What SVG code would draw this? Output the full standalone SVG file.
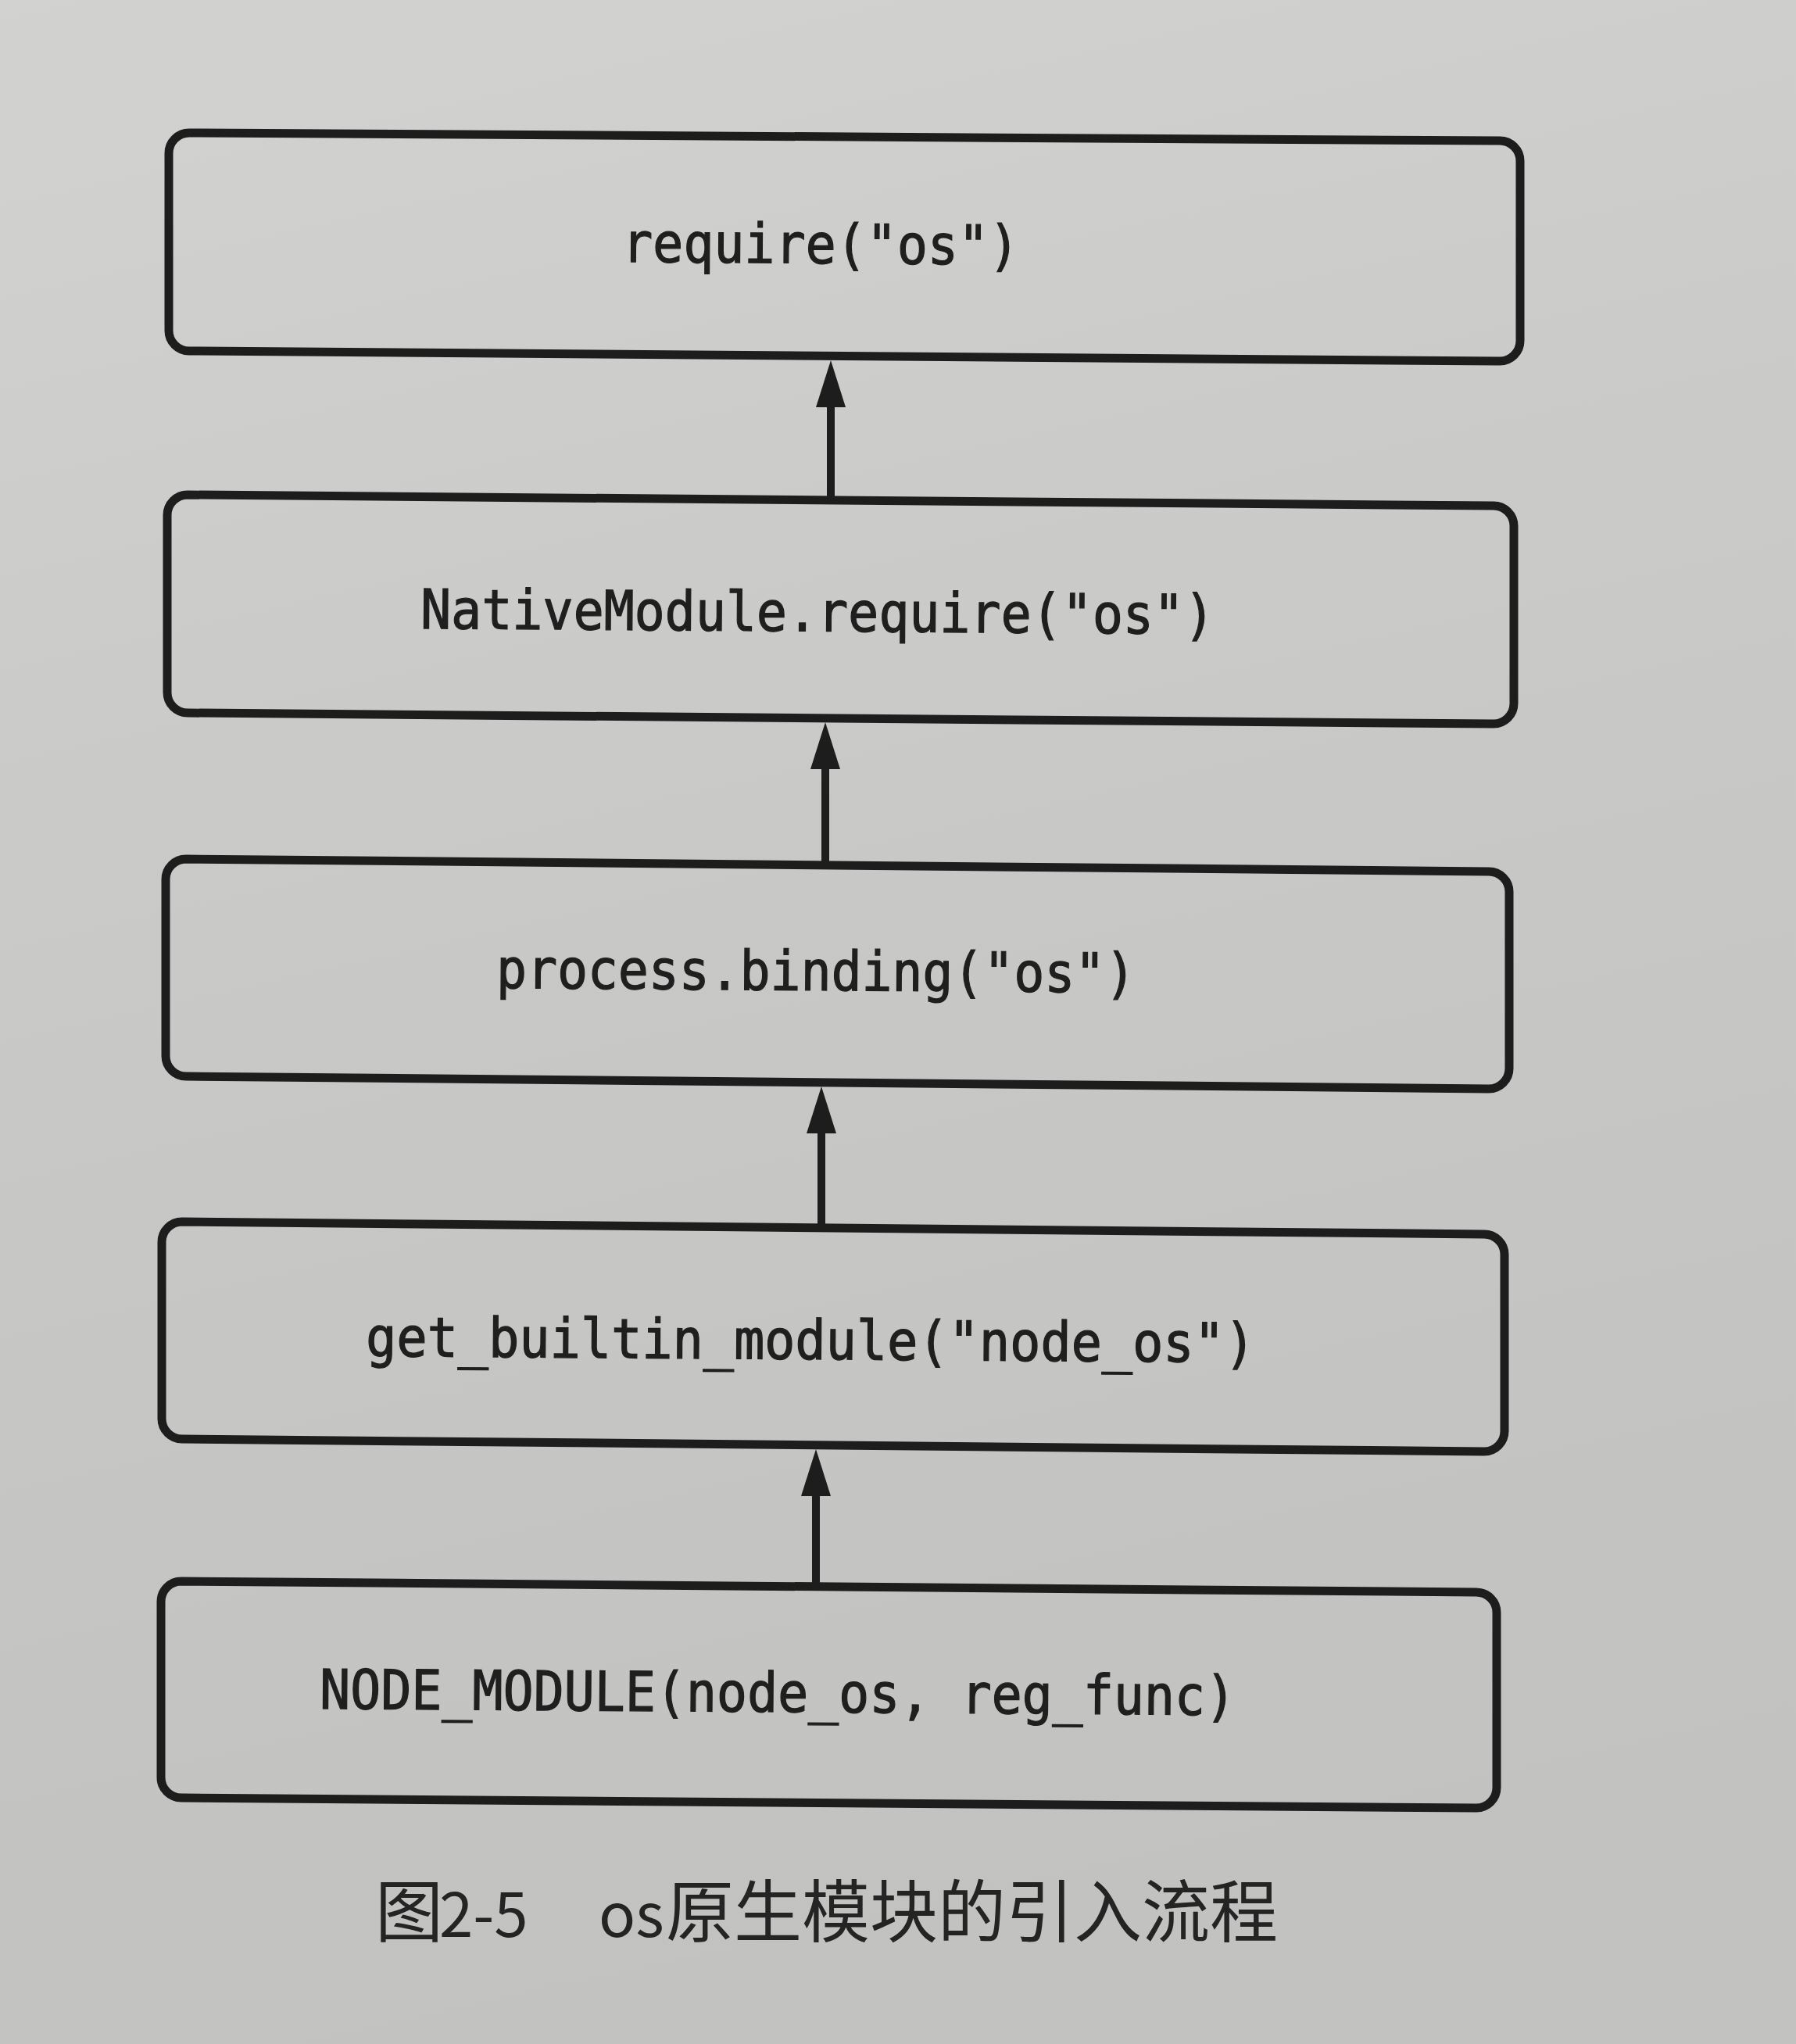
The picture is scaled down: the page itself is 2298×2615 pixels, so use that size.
<svg xmlns="http://www.w3.org/2000/svg" width="2298" height="2615" viewBox="0 0 2298 2615">
<style>
.box{fill:none;stroke:#1d1d1d;stroke-width:11;stroke-linejoin:round}
.code{font-family:"DejaVu Sans Mono","Liberation Mono",monospace;font-size:70px;fill:#1f1f1f;stroke:#1f1f1f;stroke-width:1.3}
.conn{fill:none;stroke:#1d1d1d;stroke-width:10}
.cap{font-family:"Noto Sans CJK SC","Noto Sans",sans-serif;font-size:87px;fill:#242424}
</style>
<defs>
<linearGradient id="paper" x1="0" y1="0" x2="0.2" y2="1">
<stop offset="0" stop-color="#d2d2d0"/>
<stop offset="0.5" stop-color="#c8c8c6"/>
<stop offset="1" stop-color="#c2c2c0"/>
</linearGradient>
<marker id="ah" viewBox="0 0 60 38" markerWidth="60" markerHeight="38" markerUnits="userSpaceOnUse" refX="20" refY="19" orient="auto">
<path d="M0,0 L60,19 L0,38 Z" fill="#1d1d1d"/>
</marker>
</defs>
<rect x="0" y="0" width="2298" height="2615" fill="url(#paper)"/>

<g id="node-require">
<path class="box" d="M242,170 L1919,180 A26,26 0 0 1 1945,206 L1945,436 A26,26 0 0 1 1919,462 L242,449 A26,26 0 0 1 216,423 L216,196 A26,26 0 0 1 242,170 Z"/>
<text class="code" x="796" y="335" textLength="508" lengthAdjust="spacingAndGlyphs" transform="rotate(0.4 796 335)">require("os")</text>
</g>

<g id="node-nativemodule">
<path class="box" d="M240,633 L1911,647 A26,26 0 0 1 1937,673 L1937,900 A26,26 0 0 1 1911,926 L240,912 A26,26 0 0 1 214,886 L214,659 A26,26 0 0 1 240,633 Z"/>
<text class="code" x="538" y="804" textLength="1016" lengthAdjust="spacingAndGlyphs" transform="rotate(0.4 538 804)">NativeModule.require("os")</text>
</g>

<g id="node-binding">
<path class="box" d="M238,1099 L1905,1115 A26,26 0 0 1 1931,1141 L1931,1367 A26,26 0 0 1 1905,1393 L238,1377 A26,26 0 0 1 212,1351 L212,1125 A26,26 0 0 1 238,1099 Z"/>
<text class="code" x="635" y="1264" textLength="818" lengthAdjust="spacingAndGlyphs" transform="rotate(0.4 635 1264)">process.binding("os")</text>
</g>

<g id="node-get-builtin">
<path class="box" d="M233,1563 L1899,1579 A26,26 0 0 1 1925,1605 L1925,1831 A26,26 0 0 1 1899,1857 L233,1841 A26,26 0 0 1 207,1815 L207,1589 A26,26 0 0 1 233,1563 Z"/>
<text class="code" x="468" y="1735" textLength="1138" lengthAdjust="spacingAndGlyphs" transform="rotate(0.4 468 1735)">get_builtin_module("node_os")</text>
</g>

<g id="node-node-module">
<path class="box" d="M232,2023 L1889,2037 A26,26 0 0 1 1915,2063 L1915,2287 A26,26 0 0 1 1889,2313 L232,2300 A26,26 0 0 1 206,2274 L206,2049 A26,26 0 0 1 232,2023 Z"/>
<text class="code" x="409" y="2186" textLength="1172" lengthAdjust="spacingAndGlyphs" transform="rotate(0.4 409 2186)">NODE_MODULE(node_os, reg_func)</text>
</g>

<g id="connectors">
<path class="conn" marker-end="url(#ah)" d="M1063,640 L1063,501"/>
<path class="conn" marker-end="url(#ah)" d="M1056,1107 L1056,964"/>
<path class="conn" marker-end="url(#ah)" d="M1051,1571 L1051,1430"/>
<path class="conn" marker-end="url(#ah)" d="M1044,2030 L1044,1894"/>
</g>

<g id="caption">
<text class="cap" y="2478"><tspan x="480">图</tspan><tspan x="562" font-size="78">2-5</tspan><tspan x="766" font-size="78">os</tspan><tspan x="852">原生模块的引入流程</tspan></text>
</g>
</svg>
